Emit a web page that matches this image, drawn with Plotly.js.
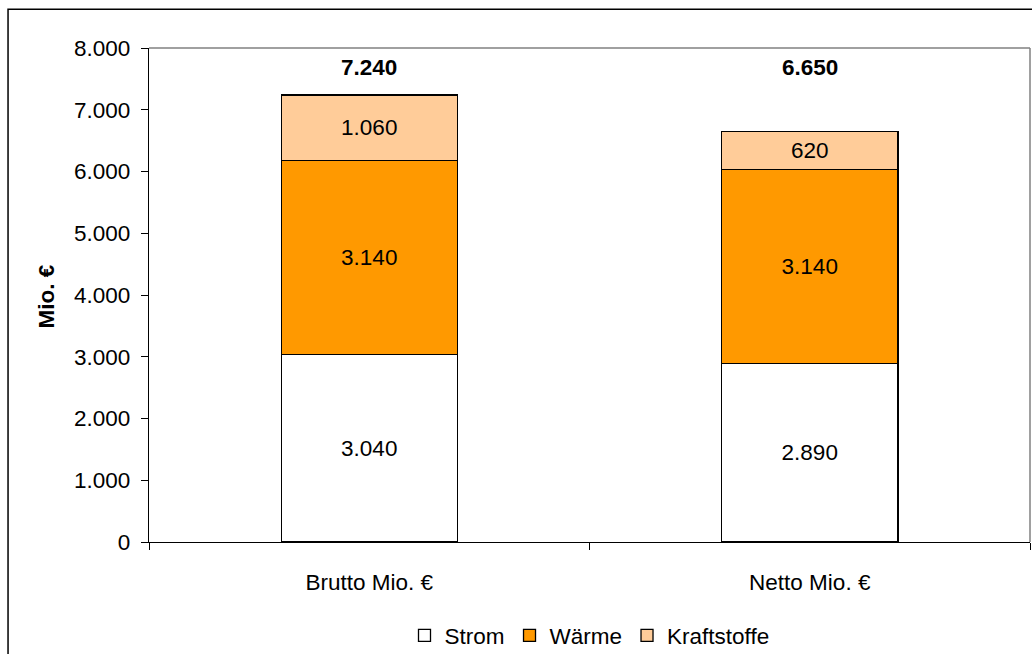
<!DOCTYPE html>
<html>
<head>
<meta charset="utf-8">
<script src="https://cdn.plot.ly/plotly-3.0.1.min.js"></script>
<style>
html,body{margin:0;padding:0;background:#fff;}
#chart{width:1032px;height:654px;}
</style>
</head>
<body>
<div id="chart"></div>
<script>
const categories = ["Brutto Mio. €", "Netto Mio. €"];
const strom = [3040, 2890];
const waerme = [3140, 3140];
const kraftstoffe = [1060, 620];
const totals = [7240, 6650];
const seriesNames = ["Strom", "Wärme", "Kraftstoffe"];
const seriesColors = ["#FFFFFF", "#FF9900", "#FFCC99"];
const yTicks = [0, 1000, 2000, 3000, 4000, 5000, 6000, 7000, 8000];
const yTitle = "Mio. €";

const FONT = "Liberation Sans, Arial, sans-serif";
const FS = 22.5;

const seriesValues = [strom, waerme, kraftstoffe];
const traces = seriesValues.map((vals, i) => ({
  type: "bar",
  name: seriesNames[i],
  x: categories,
  y: vals,
  marker: {color: seriesColors[i], line: {color: "#000000", width: 1.3}},
  text: vals,
  texttemplate: "%{y:,}",
  textposition: "inside",
  insidetextanchor: "middle",
  textangle: 0,
  constraintext: "none",
  textfont: {family: FONT, size: FS, color: "#000000"},
  hoverinfo: "skip"
}));

const annotations = categories.map((c, i) => ({
  x: c, y: 7680, xref: "x", yref: "y",
  text: "<b>" + totals[i].toLocaleString("de-DE") + "</b>",
  showarrow: false,
  font: {family: FONT, size: FS, color: "#000000"},
  yanchor: "middle"
}));
annotations.push({
  x: -0.1158, y: 0.497, xref: "paper", yref: "paper",
  text: "<b>" + yTitle + "</b>",
  textangle: -90,
  showarrow: false,
  xanchor: "center", yanchor: "middle",
  font: {family: FONT, size: FS, color: "#000000"}
});

const layout = {
  width: 1032, height: 654,
  margin: {l: 149, r: 2, t: 48, b: 112, autoexpand: false},
  paper_bgcolor: "#FFFFFF",
  plot_bgcolor: "#FFFFFF",
  separators: ",.",
  barmode: "stack",
  bargap: 0.6,
  showlegend: true,
  font: {family: FONT, size: FS, color: "#000000"},
  xaxis: {
    type: "category",
    automargin: false,
    showgrid: false,
    showline: true, linecolor: "#000000", linewidth: 1.3,
    ticks: "outside", tickson: "boundaries", ticklen: 7, tickcolor: "#000000", tickwidth: 1,
    ticklabelstandoff: 20,
    tickfont: {family: FONT, size: FS, color: "#000000"},
    fixedrange: true
  },
  yaxis: {
    automargin: false,
    range: [0, 8000],
    tickvals: yTicks,
    tickformat: ",",
    showgrid: false, zeroline: false,
    showline: true, linecolor: "#000000", linewidth: 1.3,
    ticks: "outside", ticklen: 7, tickcolor: "#000000", tickwidth: 1,
    ticklabelstandoff: 6,
    tickfont: {family: FONT, size: FS, color: "#000000"},
    fixedrange: true
  },
  legend: {
    orientation: "h",
    xref: "paper", yref: "container",
    x: 0.5, xanchor: "center",
    y: 0.028, yanchor: "middle",
    traceorder: "normal",
    font: {family: FONT, size: FS, color: "#000000"},
    itemwidth: 30
  },
  annotations: annotations,
  shapes: [
    {type: "line", xref: "paper", yref: "paper", x0: 0, x1: 1, y0: 1, y1: 1, line: {color: "#808080", width: 1.5}},
    {type: "line", xref: "paper", yref: "paper", x0: 1, x1: 1, y0: 0, y1: 1, line: {color: "#808080", width: 1.5}},
    {type: "rect", xref: "paper", yref: "paper", x0: -0.16, x1: 1.2, y0: -0.5, y1: 1.0785, line: {color: "#000000", width: 1.5}, fillcolor: "rgba(0,0,0,0)", layer: "below"}
  ]
};

Plotly.newPlot("chart", traces, layout, {displayModeBar: false, staticPlot: true});
</script>
</body>
</html>
